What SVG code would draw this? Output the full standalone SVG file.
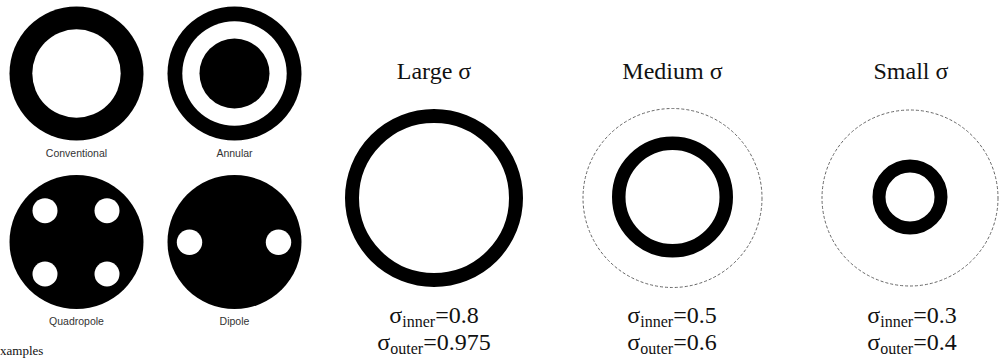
<svg xmlns="http://www.w3.org/2000/svg" width="999" height="360" viewBox="0 0 999 360">
  <style>
    .lbl { font-family: "Liberation Sans", Arial, sans-serif; font-size: 10.5px; fill: #333; text-anchor: middle; }
    .ttl { font-family: "Liberation Serif", "Times New Roman", serif; font-size: 24px; fill: #111; text-anchor: middle; }
    .sig { font-family: "Liberation Serif", "Times New Roman", serif; font-size: 24px; fill: #111; text-anchor: middle; }
    .sub { font-family: "Liberation Serif", "Times New Roman", serif; font-size: 16px; }
    .cap { font-family: "Liberation Serif", "Times New Roman", serif; font-size: 13px; fill: #111; }
    .ring { fill: none; stroke: #000; }
    .dash { fill: none; stroke: #666; stroke-width: 1; stroke-dasharray: 3 2; }
  </style>
  <rect width="999" height="360" fill="#fff"/>

  <g id="conventional">
    <circle cx="76.5" cy="73.5" r="67" fill="#000"/>
    <circle cx="76.5" cy="73.5" r="44.2" fill="#fff"/>
    <text class="lbl" x="76.5" y="157">Conventional</text>
  </g>
  <g id="annular">
    <circle cx="234.5" cy="73.5" r="67" fill="#000"/>
    <circle cx="234.5" cy="73.5" r="52.2" fill="#fff"/>
    <circle cx="234.5" cy="73.5" r="35" fill="#000"/>
    <text class="lbl" x="234.5" y="157">Annular</text>
  </g>
  <g id="quadropole">
    <circle cx="76.5" cy="242" r="67" fill="#000"/>
    <circle cx="45" cy="210.7" r="12.5" fill="#fff"/>
    <circle cx="107" cy="210.7" r="12.5" fill="#fff"/>
    <circle cx="45" cy="274" r="12.5" fill="#fff"/>
    <circle cx="107" cy="274" r="12.5" fill="#fff"/>
    <text class="lbl" x="76.5" y="325">Quadropole</text>
  </g>
  <g id="dipole">
    <circle cx="234.5" cy="242" r="67" fill="#000"/>
    <circle cx="189.5" cy="242.3" r="12.7" fill="#fff"/>
    <circle cx="278.5" cy="242.3" r="12.7" fill="#fff"/>
    <text class="lbl" x="234.5" y="325">Dipole</text>
  </g>
  <text class="cap" x="0" y="355">xamples</text>

  <g id="large">
    <text class="ttl" x="434" y="79">Large σ</text>
    <circle class="ring" cx="434" cy="198" r="82" stroke-width="14"/>
    <text class="sig" x="434" y="323">σ<tspan class="sub" dy="4">inner</tspan><tspan dy="-4">=0.8</tspan></text>
    <text class="sig" x="434" y="350">σ<tspan class="sub" dy="4">outer</tspan><tspan dy="-4">=0.975</tspan></text>
  </g>

  <g id="medium">
    <text class="ttl" x="672.5" y="79">Medium σ</text>
    <circle class="dash" cx="672.5" cy="198" r="89.5"/>
    <circle class="ring" cx="672.5" cy="197" r="53.75" stroke-width="13.5"/>
    <text class="sig" x="672" y="323">σ<tspan class="sub" dy="4">inner</tspan><tspan dy="-4">=0.5</tspan></text>
    <text class="sig" x="672" y="350">σ<tspan class="sub" dy="4">outer</tspan><tspan dy="-4">=0.6</tspan></text>
  </g>

  <g id="small">
    <text class="ttl" x="911" y="79">Small σ</text>
    <circle class="dash" cx="910" cy="198" r="88"/>
    <circle class="ring" cx="910" cy="197" r="31" stroke-width="13"/>
    <text class="sig" x="912" y="323">σ<tspan class="sub" dy="4">inner</tspan><tspan dy="-4">=0.3</tspan></text>
    <text class="sig" x="912" y="350">σ<tspan class="sub" dy="4">outer</tspan><tspan dy="-4">=0.4</tspan></text>
  </g>

  <g id="connectors"></g>
</svg>
